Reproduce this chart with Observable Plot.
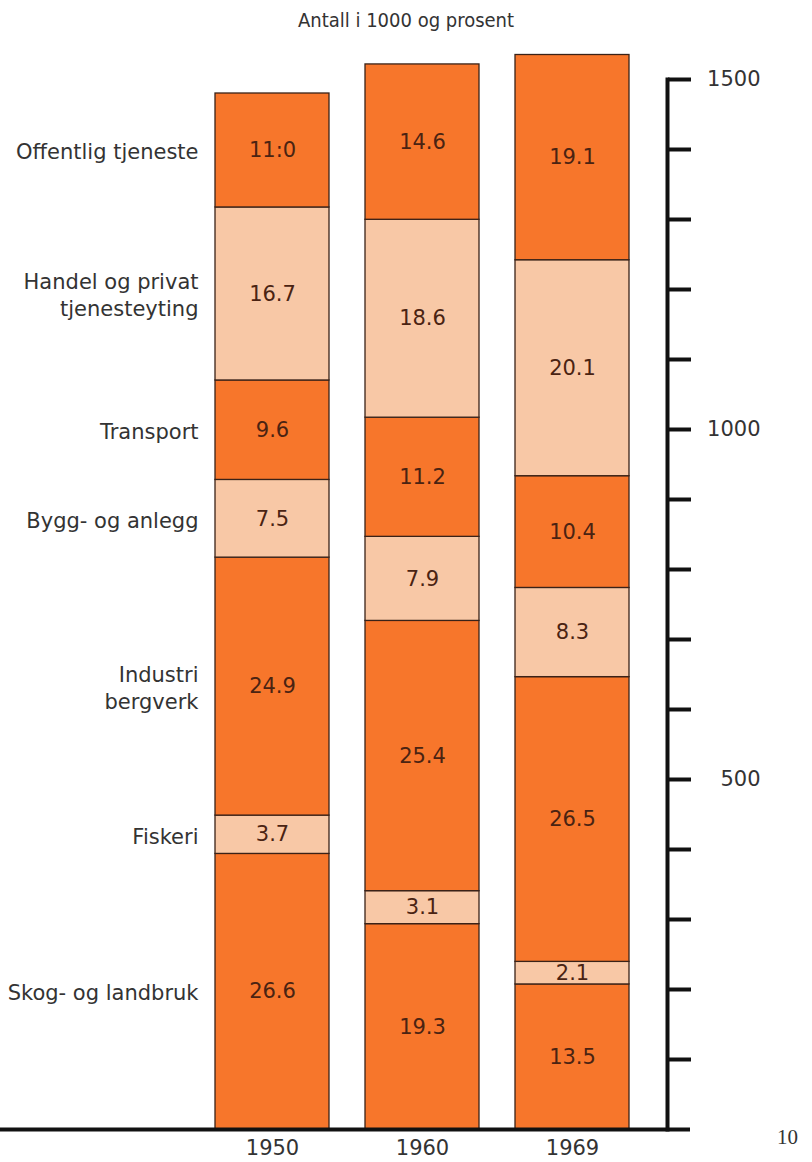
<!DOCTYPE html>
<html><head><meta charset="utf-8">
<script src="https://cdn.jsdelivr.net/npm/d3@7"></script>
<script src="https://cdn.jsdelivr.net/npm/@observablehq/plot@0.6"></script>
<style>
body{margin:0;background:#fff;}
#wrap{position:relative;width:812px;height:1162px;overflow:hidden;}
#title{height:40px;line-height:40px;text-align:center;font-family:"DejaVu Sans Condensed","DejaVu Sans",sans-serif;font-size:20px;color:#333;width:812px;}
#page{position:absolute;left:777px;top:1125px;font-family:"Liberation Serif",serif;font-size:21px;color:#333;}
</style></head>
<body>
<div id="wrap">
<div id="title">Antall i 1000 og prosent</div>
<div id="chart"></div>
<div id="page">10</div>
</div>
<script>
const years = ["1950", "1960", "1969"];
const totals = [1480, 1520, 1535]; // antall i 1000
const sectors = ["Skog- og landbruk", "Fiskeri", "Industri\nbergverk", "Bygg- og anlegg", "Transport", "Handel og privat\ntjenesteyting", "Offentlig tjeneste"];
const shades = ["dark", "light", "dark", "light", "dark", "light", "dark"];
const pct1950 = [26.6, 3.7, 24.9, 7.5, 9.6, 16.7, 11.0];
const pct1960 = [19.3, 3.1, 25.4, 7.9, 11.2, 18.6, 14.6];
const pct1969 = [13.5, 2.1, 26.5, 8.3, 10.4, 20.1, 19.1];
const lab1950 = ["26.6", "3.7", "24.9", "7.5", "9.6", "16.7", "11:0"];
const lab1960 = ["19.3", "3.1", "25.4", "7.9", "11.2", "18.6", "14.6"];
const lab1969 = ["13.5", "2.1", "26.5", "8.3", "10.4", "20.1", "19.1"];
const yTicks = [100, 200, 300, 400, 500, 600, 700, 800, 900, 1000, 1100, 1200, 1300, 1400, 1500];
const yTickLabels = [500, 1000, 1500];

const pcts = [pct1950, pct1960, pct1969];
const labs = [lab1950, lab1960, lab1969];
const rows = [];
years.forEach((year, i) => {
  sectors.forEach((sector, j) => {
    rows.push({year, sector, shade: shades[j], value: pcts[i][j] * totals[i] / 100, label: labs[i][j]});
  });
});

const chart = Plot.plot({
  width: 812, height: 1122,
  marginLeft: 0, marginRight: 122, marginTop: 39, marginBottom: 33,
  x: {domain: years, range: [197, 647], paddingInner: 0.24, paddingOuter: 0.12, label: null},
  y: {domain: [0, 1500], label: null},
  color: {domain: ["dark", "light"], range: ["#f7762b", "#f8c8a6"]},
  style: {fontFamily: "DejaVu Sans, sans-serif", fontSize: "20px", color: "#333", background: "white", overflow: "visible"},
  marks: [
    Plot.barY(rows, {x: "year", y: "value", z: "sector", fill: "shade", stroke: "#3a2218", strokeWidth: 1.3}),
    Plot.text(rows, Plot.stackY({x: "year", y: "value", z: "sector", text: "label", fill: "#4a2312", fontSize: 21})),
    Plot.text(rows.filter(d => d.year === "1950"), Plot.stackY({x: "year", y: "value", z: "sector", text: "sector", textAnchor: "end", dx: -74, fill: "#333", fontSize: 21, lineHeight: 1.3})),
    Plot.ruleY([0], {strokeWidth: 4, stroke: "#111"}),
    Plot.frame({anchor: "right", dx: -23, strokeWidth: 4, stroke: "#111"}),
    Plot.axisY({anchor: "right", ticks: yTicks, tickSize: 23, dx: -23, strokeWidth: 4, stroke: "#111", tickFormat: () => ""}),
    Plot.axisY({anchor: "right", ticks: yTickLabels, tickSize: 0, tickPadding: 70, textAnchor: "end", fill: "#333", fontSize: 21, tickFormat: d => String(d)}),
    Plot.axisX({tickSize: 0, tickPadding: 11, fontSize: 21, fill: "#333"})
  ]
});
document.getElementById("chart").appendChild(chart);
</script>
</body></html>
